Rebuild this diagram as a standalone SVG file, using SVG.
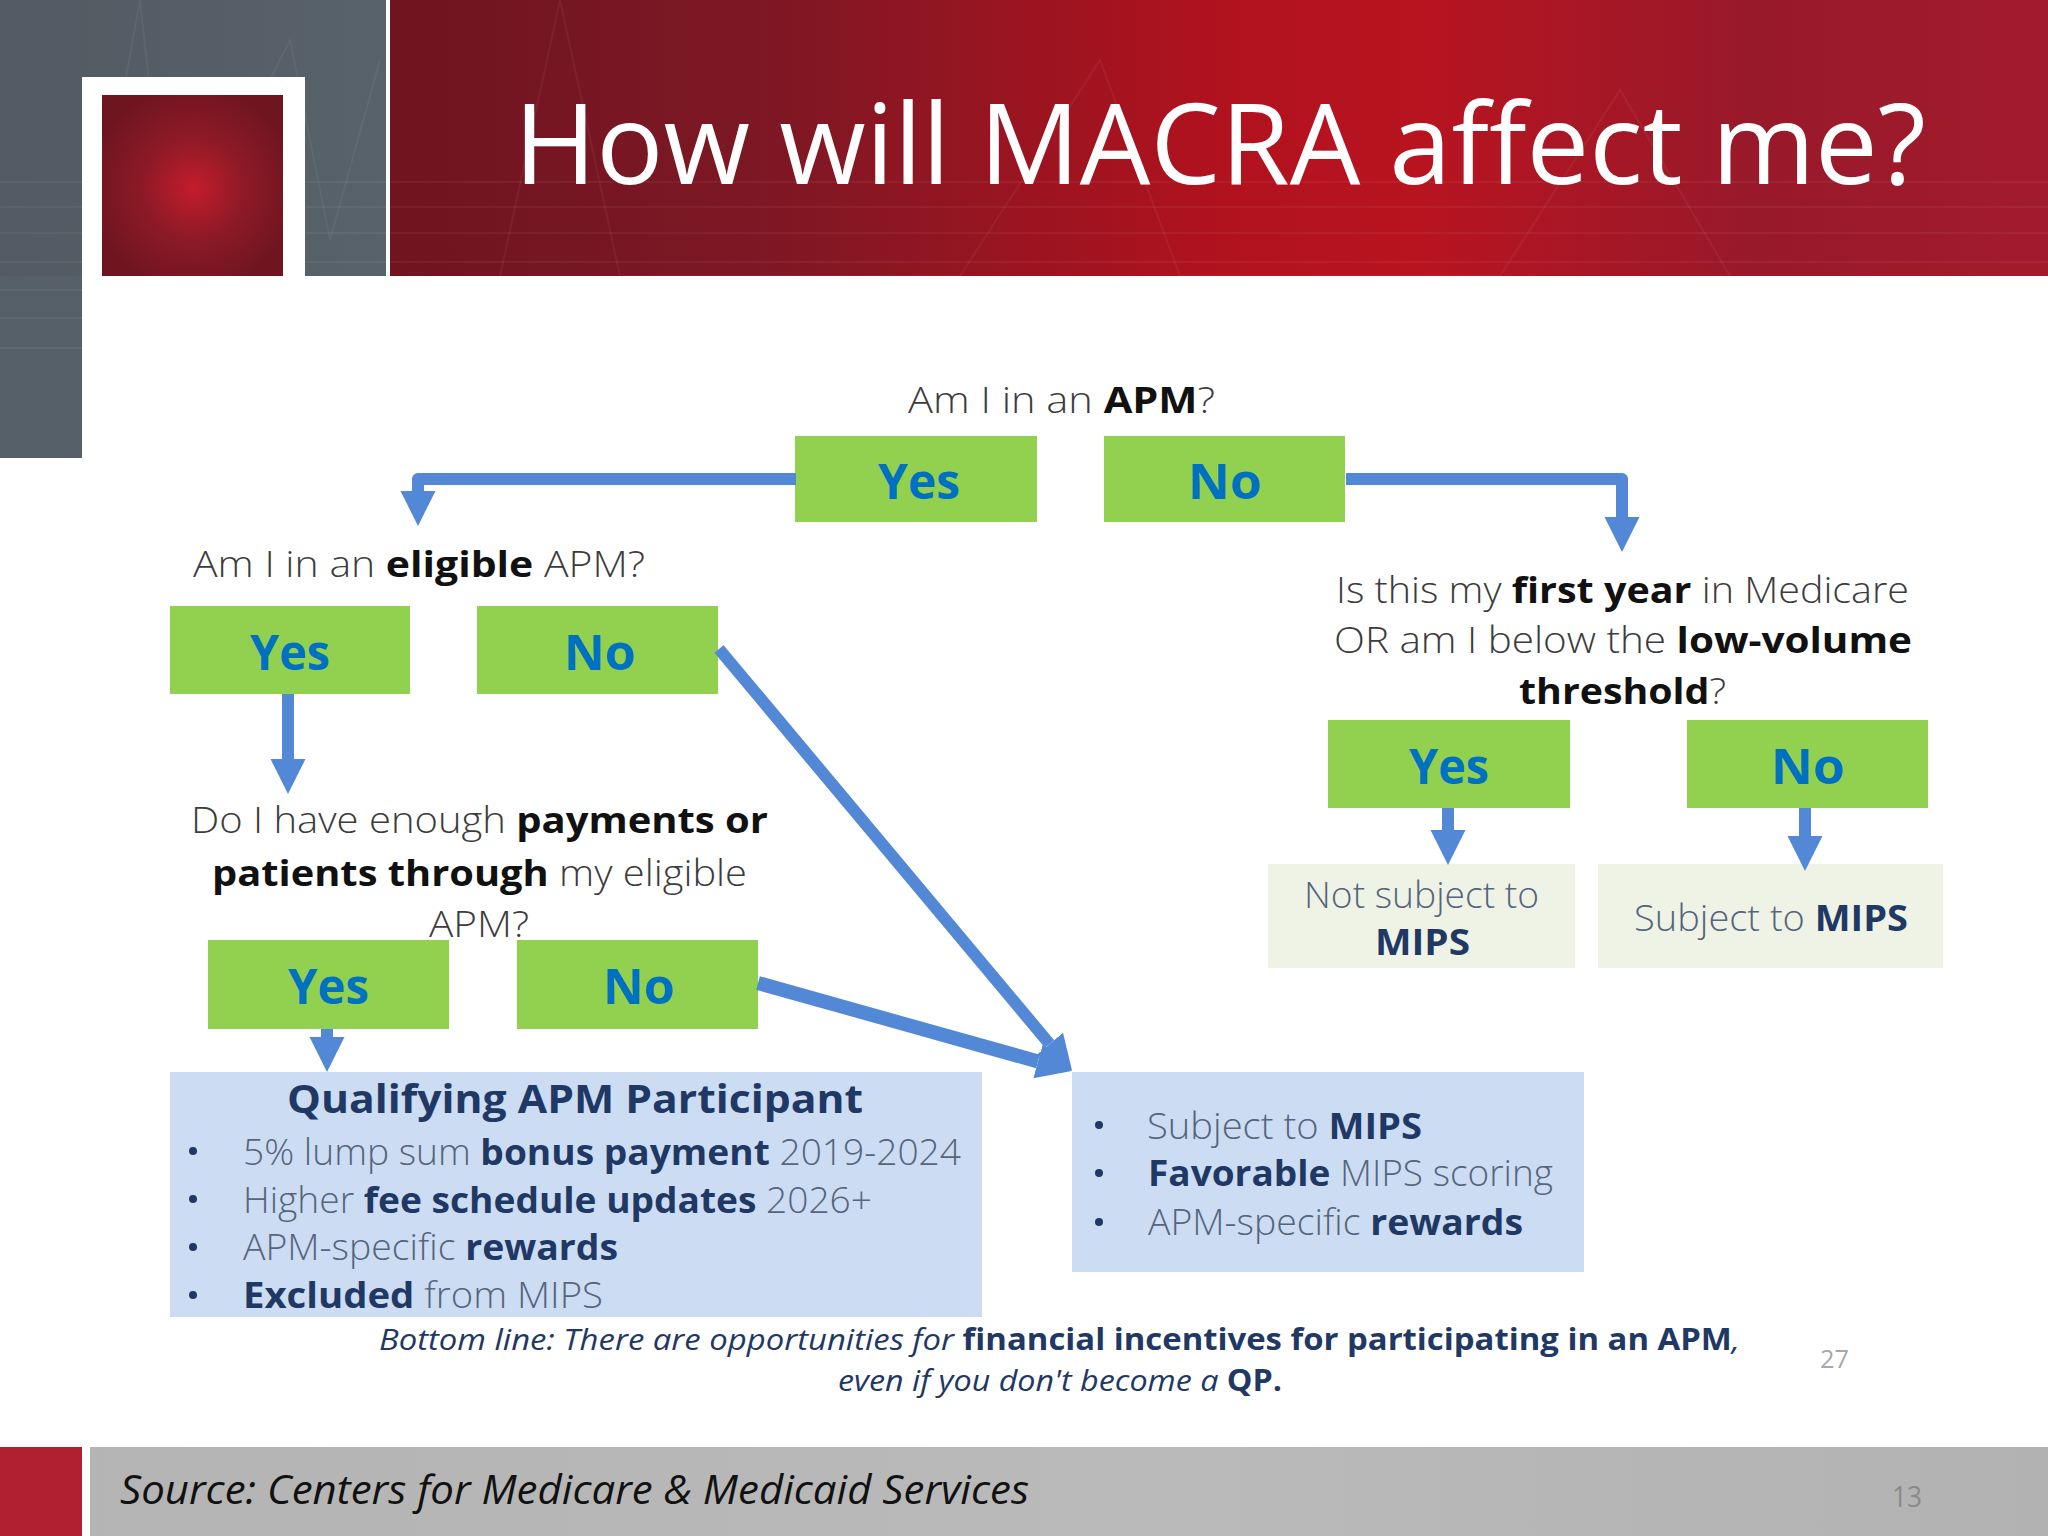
<svg xmlns="http://www.w3.org/2000/svg" width="2048" height="1536" viewBox="0 0 2048 1536">
<defs>
<linearGradient id="red" x1="0" y1="0" x2="1" y2="0">
<stop offset="0" stop-color="#701420"/><stop offset="0.22" stop-color="#7c1824"/><stop offset="0.5" stop-color="#b0121e"/><stop offset="0.62" stop-color="#b81420"/><stop offset="0.82" stop-color="#98192a"/><stop offset="1" stop-color="#a21b2c"/>
</linearGradient>
<linearGradient id="grey" x1="0" y1="0" x2="1" y2="0">
<stop offset="0" stop-color="#535a63"/><stop offset="0.5" stop-color="#555e66"/><stop offset="1" stop-color="#58626b"/>
</linearGradient>
<radialGradient id="glow" gradientUnits="userSpaceOnUse" cx="194" cy="188" r="105">
<stop offset="0" stop-color="#c41c2c"/><stop offset="0.5" stop-color="#8c1a26"/><stop offset="1" stop-color="#6e1520"/>
</radialGradient>
<linearGradient id="foot" x1="0" y1="0" x2="1" y2="0">
<stop offset="0" stop-color="#b4b4b4"/><stop offset="0.55" stop-color="#bababa"/><stop offset="1" stop-color="#b2b2b2"/>
</linearGradient>
<marker id="head" markerUnits="userSpaceOnUse" markerWidth="36" markerHeight="36" refX="0" refY="18" orient="auto">
<path d="M0,0.5 L35,18 L0,35.5 Z" fill="#5288d6"/>
</marker>
</defs>
<style>
text{font-family:"Open Sans","Noto Sans","Liberation Sans",sans-serif}
.q{font-size:36px;font-weight:300;fill:#3c3c3c}
.q tspan,.b{font-weight:700;fill:#111}
.g{fill:#92d050}
.a{font-size:48px;font-weight:700;fill:#0070c0;text-anchor:start}
.box{fill:#ccddf3}
.lt{fill:#eff3e6}
.t{font-size:36px;font-weight:300;fill:#55657c}
.t tspan{font-weight:700;fill:#1f3864}
.c{fill:none;stroke:#5288d6;stroke-linejoin:round;marker-end:url(#head)}
.dot{fill:#1f3864}
.bl{font-size:30px;font-style:italic;fill:#1f3864}
.bl tspan{font-style:normal;font-weight:700}
</style>
<rect width="2048" height="1536" fill="#fff"/>
<g id="background">
<rect x="390" y="0" width="1658" height="276" fill="url(#red)"/>
<rect x="0" y="0" width="386" height="276" fill="url(#grey)"/>
<rect x="0" y="276" width="82" height="182" fill="#566068"/>
<g stroke="#fff" stroke-opacity="0.05" stroke-width="2" fill="none">
<path d="M0,182H2048M0,207H2048M0,233H2048M0,262H2048"/>
<path d="M0,290H82M0,318H82M0,348H82"/>
<path d="M90,276L140,0L170,276L290,40L330,240L380,60M500,276L560,0L620,276L960,276L1100,60L1180,276L1500,276L1620,90L1730,276"/>
</g>
<rect x="82" y="77" width="223" height="199" fill="#fff"/>
<rect x="102" y="95" width="181" height="181" fill="url(#glow)"/>
<rect x="0" y="1447" width="82" height="89" fill="#b02030"/>
<rect x="90" y="1447" width="1958" height="89" fill="url(#foot)"/>
</g>
<text id="title" x="514" y="184" font-size="112" font-weight="400" fill="#fff" textLength="1412" lengthAdjust="spacingAndGlyphs">How will MACRA affect me?</text>
<g id="q-apm"><text class="q" x="908" y="413" textLength="307" lengthAdjust="spacingAndGlyphs">Am I in an <tspan>APM</tspan>?</text></g>
<g id="apm-yes"><rect class="g" x="795" y="436" width="242" height="86"/><text class="a" x="878" y="499" textLength="82" lengthAdjust="spacingAndGlyphs">Yes</text></g>
<g id="apm-no"><rect class="g" x="1104" y="436" width="241" height="86"/><text class="a" x="1188" y="499" textLength="74" lengthAdjust="spacingAndGlyphs">No</text></g>
<g id="q-eligible"><text class="q" x="193" y="577" textLength="452" lengthAdjust="spacingAndGlyphs">Am I in an <tspan>eligible</tspan> APM?</text></g>
<g id="eligible-yes"><rect class="g" x="170" y="606" width="240" height="88"/><text class="a" x="250" y="670" textLength="80" lengthAdjust="spacingAndGlyphs">Yes</text></g>
<g id="eligible-no"><rect class="g" x="477" y="606" width="241" height="88"/><text class="a" x="564" y="670" textLength="72" lengthAdjust="spacingAndGlyphs">No</text></g>
<g id="q-payments">
<text class="q" x="191" y="833" textLength="577" lengthAdjust="spacingAndGlyphs">Do I have enough <tspan>payments or</tspan></text>
<text class="q" x="212" y="886" textLength="535" lengthAdjust="spacingAndGlyphs"><tspan>patients through</tspan> my eligible</text>
<text class="q" x="429" y="937" textLength="100" lengthAdjust="spacingAndGlyphs">APM?</text>
</g>
<g id="payments-yes"><rect class="g" x="208" y="940" width="241" height="89"/><text class="a" x="288" y="1004" textLength="81" lengthAdjust="spacingAndGlyphs">Yes</text></g>
<g id="payments-no"><rect class="g" x="517" y="940" width="241" height="89"/><text class="a" x="603" y="1004" textLength="72" lengthAdjust="spacingAndGlyphs">No</text></g>
<g id="qp-box">
<rect class="box" x="170" y="1072" width="812" height="245"/>
<text x="287" y="1113" font-size="40" font-weight="700" fill="#1f3864" textLength="576" lengthAdjust="spacingAndGlyphs">Qualifying APM Participant</text>
<circle class="dot" cx="193" cy="1151" r="4"/><text class="t" x="243" y="1165" textLength="718" lengthAdjust="spacingAndGlyphs">5% lump sum <tspan>bonus payment</tspan> 2019-2024</text>
<circle class="dot" cx="193" cy="1199" r="4"/><text class="t" x="243" y="1213" textLength="629" lengthAdjust="spacingAndGlyphs">Higher <tspan>fee schedule updates</tspan> 2026+</text>
<circle class="dot" cx="193" cy="1247" r="4"/><text class="t" x="243" y="1260" textLength="375" lengthAdjust="spacingAndGlyphs">APM-specific <tspan>rewards</tspan></text>
<circle class="dot" cx="193" cy="1295" r="4"/><text class="t" x="243" y="1308" textLength="360" lengthAdjust="spacingAndGlyphs"><tspan>Excluded</tspan> from MIPS</text>
</g>
<g id="mips-box">
<rect class="box" x="1072" y="1072" width="512" height="200"/>
<circle class="dot" cx="1099" cy="1125" r="4"/><text class="t" x="1147" y="1139" textLength="275" lengthAdjust="spacingAndGlyphs">Subject to <tspan>MIPS</tspan></text>
<circle class="dot" cx="1099" cy="1173" r="4"/><text class="t" x="1148" y="1186" textLength="405" lengthAdjust="spacingAndGlyphs"><tspan>Favorable</tspan> MIPS scoring</text>
<circle class="dot" cx="1099" cy="1222" r="4"/><text class="t" x="1148" y="1235" textLength="375" lengthAdjust="spacingAndGlyphs">APM-specific <tspan>rewards</tspan></text>
</g>
<g id="q-first">
<text class="q" x="1336" y="603" textLength="573" lengthAdjust="spacingAndGlyphs">Is this my <tspan>first year</tspan> in Medicare</text>
<text class="q" x="1334" y="653" textLength="578" lengthAdjust="spacingAndGlyphs">OR am I below the <tspan>low-volume</tspan></text>
<text class="q" x="1519" y="704" textLength="207" lengthAdjust="spacingAndGlyphs"><tspan>threshold</tspan>?</text>
</g>
<g id="first-yes"><rect class="g" x="1328" y="720" width="242" height="88"/><text class="a" x="1409" y="784" textLength="80" lengthAdjust="spacingAndGlyphs">Yes</text></g>
<g id="first-no"><rect class="g" x="1687" y="720" width="241" height="88"/><text class="a" x="1771" y="784" textLength="74" lengthAdjust="spacingAndGlyphs">No</text></g>
<g id="not-subject">
<rect class="lt" x="1268" y="864" width="307" height="104"/>
<text class="t" x="1304" y="908" textLength="235" lengthAdjust="spacingAndGlyphs">Not subject to</text>
<text x="1375" y="955" font-size="36" font-weight="700" fill="#1f3864" textLength="95" lengthAdjust="spacingAndGlyphs">MIPS</text>
</g>
<g id="subject">
<rect class="lt" x="1598" y="864" width="345" height="104"/>
<text class="t" x="1634" y="931" textLength="274" lengthAdjust="spacingAndGlyphs">Subject to <tspan>MIPS</tspan></text>
</g>
<g id="bottom-line">
<text class="bl" x="379" y="1350" textLength="1361" lengthAdjust="spacingAndGlyphs">Bottom line: There are opportunities for <tspan>financial incentives for participating in an APM</tspan>,</text>
<text class="bl" x="838" y="1391" textLength="444" lengthAdjust="spacingAndGlyphs">even if you don't become a <tspan>QP.</tspan></text>
</g>
<g id="connectors">
<polyline class="c" stroke-width="12" points="796,479 418,479 418,491"/>
<polyline class="c" stroke-width="12" points="1346,479 1622,479 1622,517"/>
<polyline class="c" stroke-width="12" points="288,694 288,759"/>
<polyline class="c" stroke-width="12" points="327,1029 327,1037"/>
<polyline class="c" stroke-width="12" points="719,649 1049.6,1044"/>
<polyline class="c" stroke-width="14" points="758,983 1038,1061.5"/>
<polyline class="c" stroke-width="12" points="1448,808 1448,830"/>
<polyline class="c" stroke-width="12" points="1805,808 1805,836"/>
</g>
<text id="inner-page" x="1820" y="1368" font-size="26" font-weight="400" fill="#a8a8a8" textLength="29" lengthAdjust="spacingAndGlyphs">27</text>
<text id="source" x="120" y="1504" font-size="40" font-style="italic" fill="#111" textLength="909" lengthAdjust="spacingAndGlyphs">Source: Centers for Medicare &amp; Medicaid Services</text>
<text id="page" x="1892" y="1507" font-size="29" font-weight="400" fill="#8a8a8a" textLength="30" lengthAdjust="spacingAndGlyphs">13</text>
</svg>
